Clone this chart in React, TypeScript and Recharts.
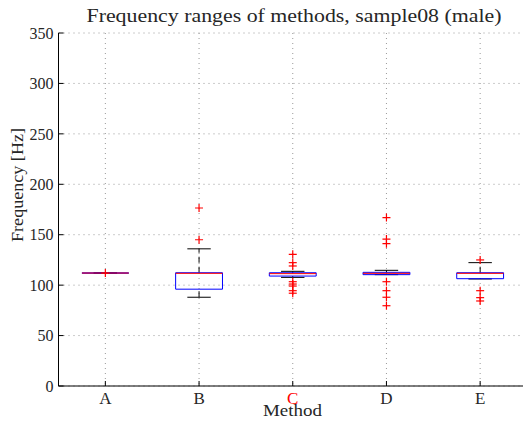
import React from 'react';
import { ComposedChart, XAxis, YAxis, CartesianGrid, ReferenceLine, Scatter } from 'recharts';

const methods = ['A', 'B', 'C', 'D', 'E'];
const whiskerLow = [112, 88, 107.7, 110.4, 106.1];
const q1 = [112, 96, 109, 110.4, 106.4];
const medians = [112, 111.7, 111.4, 111.7, 111.7];
const q3 = [112, 112.3, 112.3, 112.7, 112.3];
const whiskerHigh = [112, 136, 113.7, 114.7, 122.3];
const outliers = [
  [112],
  [145, 176.5],
  [130.6, 122.3, 119, 103.4, 101.1, 99.1, 94.5, 92],
  [167, 145.7, 141.1, 103.4, 94.5, 88, 79.6],
  [125, 94.5, 87.6, 84.3],
];
const yTicks = [0, 50, 100, 150, 200, 250, 300, 350];
const xTicks = [1, 2, 3, 4, 5];

const FONT = 'Liberation Serif, serif';
const TEXT = '#262626';

const baseData = methods.map((m, i) => ({ x: i + 1, name: m }));
const outlierData = outliers.flatMap((arr, i) => arr.map((v) => ({ x: i + 1, y: v })));

const BOX_HALF = 0.25;
const CAP_HALF = 0.125;

const YTick = (props: any) => {
  const { x, y, payload } = props;
  return (
    <g>
      <line x1={x} x2={x + 5} y1={y} y2={y} stroke="#000" strokeWidth={1} />
      <text x={x - 5} y={y} dy="0.36em" textAnchor="end" style={{ fontFamily: FONT }} fontSize={16} fill={TEXT}>
        {payload.value}
      </text>
    </g>
  );
};

const XTick = (props: any) => {
  const { x, y, payload } = props;
  const label = methods[payload.value - 1];
  return (
    <g>
      <line x1={x} x2={x} y1={y} y2={y - 5} stroke="#000" strokeWidth={1} />
      <text x={x} y={y + 18} textAnchor="middle" style={{ fontFamily: FONT }} fontSize={17} fill={label === 'C' ? '#ff0000' : TEXT}>
        {label}
      </text>
    </g>
  );
};

const TopTick = (props: any) => {
  const { x, y } = props;
  return <line x1={x} x2={x} y1={y} y2={y + 5} stroke="#000" strokeWidth={1} />;
};

const Plus = (props: any) => {
  const { cx, cy } = props;
  if (cx == null || cy == null) return null;
  return (
    <g>
      <line x1={cx - 4} x2={cx + 4} y1={cy} y2={cy} stroke="#ff0000" strokeWidth={1.2} />
      <line x1={cx} x2={cx} y1={cy - 4} y2={cy + 4} stroke="#ff0000" strokeWidth={1.2} />
    </g>
  );
};

const seg = (key: string, x1: number, y1: number, x2: number, y2: number, stroke: string, dash?: string, w = 1) => (
  <ReferenceLine
    key={key}
    segment={[{ x: x1, y: y1 }, { x: x2, y: y2 }]}
    stroke={stroke}
    strokeWidth={w}
    strokeDasharray={dash}
    ifOverflow="visible"
  />
);

export default function App() {
  const whiskers = methods.flatMap((m, i) => {
    const c = i + 1;
    return [
      seg(`wu${m}`, c, q3[i], c, whiskerHigh[i], '#000', '6 4'),
      seg(`wl${m}`, c, whiskerLow[i], c, q1[i], '#000', '6 4'),
      seg(`cu${m}`, c - CAP_HALF, whiskerHigh[i], c + CAP_HALF, whiskerHigh[i], '#000'),
      seg(`cl${m}`, c - CAP_HALF, whiskerLow[i], c + CAP_HALF, whiskerLow[i], '#000'),
    ];
  });
  const boxes = methods.flatMap((m, i) => {
    const c = i + 1;
    return [
      seg(`bt${m}`, c - BOX_HALF, q3[i], c + BOX_HALF, q3[i], '#0000ff'),
      seg(`bb${m}`, c - BOX_HALF, q1[i], c + BOX_HALF, q1[i], '#0000ff'),
      seg(`bl${m}`, c - BOX_HALF, q1[i], c - BOX_HALF, q3[i], '#0000ff'),
      seg(`br${m}`, c + BOX_HALF, q1[i], c + BOX_HALF, q3[i], '#0000ff'),
    ];
  });
  const meds = methods.map((m, i) => {
    const c = i + 1;
    return seg(`md${m}`, c - BOX_HALF, medians[i], c + BOX_HALF, medians[i], '#ff0000');
  });

  return (
    <div style={{ position: 'fixed', left: 0, top: 0, width: 523, height: 421, overflow: 'hidden', background: '#fff', fontFamily: FONT }}>
      <ComposedChart
        width={540}
        height={421}
        data={baseData}
        margin={{ top: 33, right: 13, bottom: 0, left: 0 }}
      >
        <CartesianGrid stroke="#999" strokeDasharray="1 4" horizontalValues={yTicks} verticalValues={xTicks} />
        <XAxis
          dataKey="x"
          type="number"
          domain={[0.5, 5.5]}
          ticks={xTicks}
          height={35}
          tickSize={0}
          tickMargin={0}
          tick={<XTick />}
          axisLine={{ stroke: '#000', strokeWidth: 1 }}
          tickLine={false}
          allowDataOverflow
        />
        <XAxis
          xAxisId="top"
          orientation="top"
          dataKey="x"
          type="number"
          domain={[0.5, 5.5]}
          ticks={xTicks}
          height={0}
          tickSize={0}
          tickMargin={0}
          tick={<TopTick />}
          axisLine={{ stroke: '#000', strokeWidth: 1 }}
          tickLine={false}
          allowDataOverflow
        />
        <YAxis
          type="number"
          domain={[0, 350]}
          ticks={yTicks}
          width={58.5}
          tickSize={0}
          tickMargin={0}
          tick={<YTick />}
          axisLine={{ stroke: '#000', strokeWidth: 1 }}
          tickLine={false}
          allowDataOverflow
        />
        {whiskers}
        {boxes}
        {meds}
        <Scatter data={outlierData} dataKey="y" shape={<Plus />} isAnimationActive={false} />
      </ComposedChart>
      <svg width={523} height={421} style={{ position: 'absolute', left: 0, top: 0, pointerEvents: 'none' }}>
        <text x={294} y={22} textAnchor="middle" style={{ fontFamily: FONT }} fontSize={18} fill={TEXT} textLength={415} lengthAdjust="spacingAndGlyphs">
          Frequency ranges of methods, sample08 (male)
        </text>
        <text x={292.5} y={416} textAnchor="middle" style={{ fontFamily: FONT }} fontSize={17} fill={TEXT} textLength={59} lengthAdjust="spacingAndGlyphs">
          Method
        </text>
        <text
          x={0}
          y={0}
          transform="translate(22.5,185) rotate(-90)"
          textAnchor="middle"
          style={{ fontFamily: FONT }}
          fontSize={17}
          fill={TEXT}
          textLength={114}
          lengthAdjust="spacingAndGlyphs"
        >
          Frequency [Hz]
        </text>
      </svg>
    </div>
  );
}
